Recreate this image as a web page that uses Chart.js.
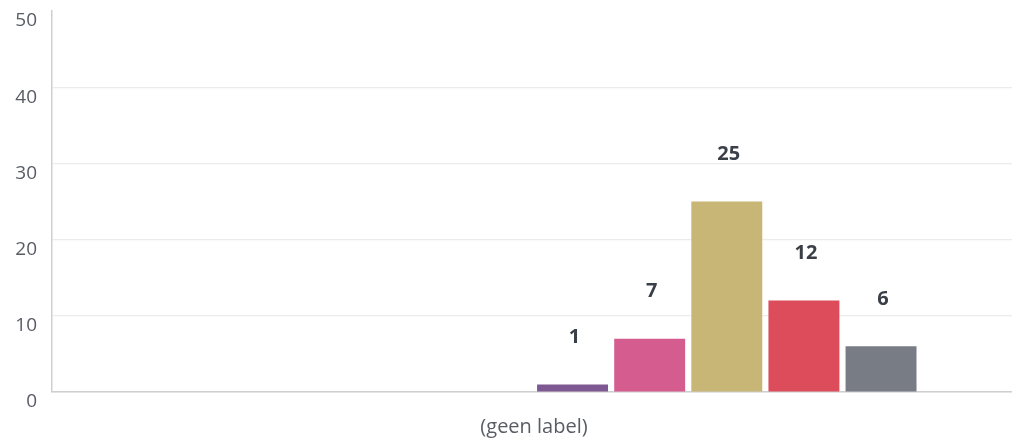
<!DOCTYPE html>
<html>
<head>
<meta charset="utf-8">
<script src="https://cdn.jsdelivr.net/npm/chart.js@4/dist/chart.umd.min.js"></script>
<style>
  html, body { margin: 0; padding: 0; background: #fff; overflow: hidden; }
  .wrap { width: 1012px; height: 440px; position: relative; overflow: hidden; }
</style>
</head>
<body>
<div class="wrap"><canvas id="myChart" width="1016" height="440"></canvas></div>
<script>
var categories = ['(geen label)'];
var seriesValues = [0, 0, 0, 0, 0, 1, 7, 25, 12, 6];
var seriesColors = ['#9aa0a6', '#9aa0a6', '#9aa0a6', '#9aa0a6', '#9aa0a6',
                    '#7e5890', '#d45c8e', '#c8b677', '#dc4c5b', '#787d85'];
var yTicks = [0, 10, 20, 30, 40, 50];

var fontFamily = '"Open Sans", "Noto Sans", sans-serif';

// waarde boven elke staaf
var valueLabels = {
    id: 'valueLabels',
    afterDatasetsDraw: function (chart) {
        var ctx = chart.ctx;
        ctx.save();
        ctx.font = 'bold 20px ' + fontFamily;
        ctx.fillStyle = '#3a3f48';
        ctx.textAlign = 'center';
        ctx.textBaseline = 'middle';
        chart.data.datasets.forEach(function (ds, i) {
            var meta = chart.getDatasetMeta(i);
            meta.data.forEach(function (bar, j) {
                var v = ds.data[j];
                if (!v) return;
                ctx.fillText(String(v), bar.x + 2, bar.y - 47);
            });
        });
        ctx.restore();
    }
};

var datasets = seriesValues.map(function (v, i) {
    return {
        label: 'reeks ' + (i + 1),
        data: [v],
        backgroundColor: seriesColors[i],
        borderWidth: 0,
        barPercentage: 0.92,
        categoryPercentage: 0.8
    };
});

var ctx = document.getElementById('myChart').getContext('2d');
var config = {
    type: 'bar',
    data: {
        labels: categories,
        datasets: datasets
    },
    options: {
        responsive: false,
        animation: false,
        layout: { padding: { top: 11, right: 0, left: 0, bottom: 0 } },
        plugins: {
            legend: { display: false },
            tooltip: { enabled: false }
        },
        scales: {
            x: {
                grid: { display: false, drawTicks: false },
                border: { display: true, color: '#cfcfcf', width: 1.5 },
                ticks: {
                    color: '#585d65',
                    font: { family: fontFamily, size: 20 },
                    padding: 23
                },
                afterFit: function (scale) {
                    scale.height = 48;
                    scale.paddingLeft = 0;
                    scale.paddingRight = 0;
                }
            },
            y: {
                min: 0,
                max: 50,
                afterBuildTicks: function (scale) {
                    scale.ticks = yTicks.map(function (v) { return { value: v }; });
                },
                grid: {
                    drawTicks: false,
                    color: function (c) {
                        return (c.tick && c.tick.value === 50) ? 'rgba(0,0,0,0)' : '#ececec';
                    },
                    lineWidth: 1.2
                },
                border: { display: true, color: '#cfcfcf', width: 1.5 },
                ticks: {
                    color: '#585d65',
                    font: { family: fontFamily, size: 19 },
                    padding: 15,
                    labelOffset: 10
                },
                afterFit: function (scale) {
                    scale.width = 52;
                    scale.paddingTop = 0;
                    scale.paddingBottom = 0;
                }
            }
        }
    },
    plugins: [valueLabels]
};
var myChart = new Chart(ctx, config);
</script>
</body>
</html>
